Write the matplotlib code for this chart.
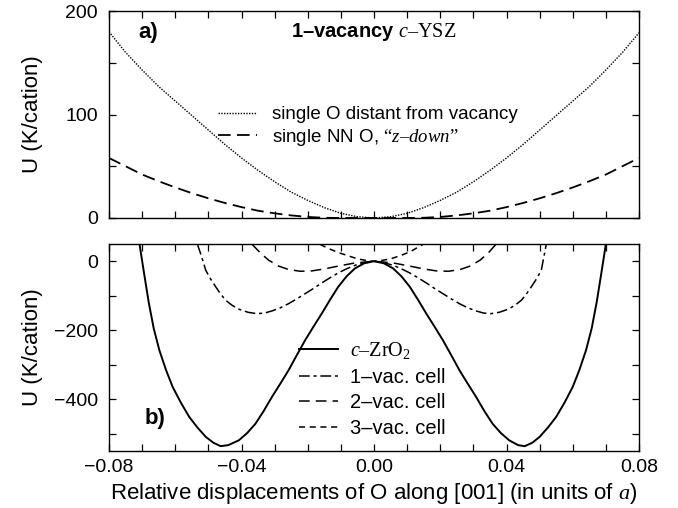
import numpy as np
import matplotlib.pyplot as plt
from matplotlib.ticker import MultipleLocator

plt.rcParams["font.family"] = ["Liberation Sans", "DejaVu Sans"]
plt.rcParams["mathtext.fontset"] = "custom"
plt.rcParams["mathtext.rm"] = "Liberation Serif"
plt.rcParams["mathtext.it"] = "Liberation Serif:italic"
plt.rcParams["font.size"] = 14

# ---- panel a): 1-vacancy c-YSZ ----
x_distant = [-0.080, -0.075, -0.070, -0.065, -0.060, -0.055, -0.050, -0.045, -0.040,
             -0.035, -0.030, -0.025, -0.020, -0.015, -0.010, -0.005, 0.0,
             0.005, 0.010, 0.015, 0.020, 0.025, 0.030, 0.035, 0.040,
             0.045, 0.050, 0.055, 0.060, 0.065, 0.070, 0.075, 0.080]
u_distant = [180, 160, 143, 127, 113, 99, 85, 71, 58,
             46, 35, 25, 17, 10, 4.5, 1.2, 0,
             1.2, 4.5, 10, 17, 25, 35, 46, 58,
             71, 85, 99, 113, 127, 143, 160, 179]

x_nn = [-0.080, -0.075, -0.070, -0.065, -0.060, -0.055, -0.050, -0.045, -0.040,
        -0.035, -0.030, -0.025, -0.020, -0.015, -0.010, 0.0,
        0.010, 0.015, 0.020, 0.025, 0.030, 0.035, 0.040,
        0.045, 0.050, 0.055, 0.060, 0.065, 0.070, 0.075, 0.080]
u_nn = [58, 50, 42, 35.5, 29.5, 24, 19, 14.5, 10.5,
        7, 4.5, 2.5, 1, 0.2, 0, 0,
        0, 0.2, 1, 2.5, 4.5, 7, 10.5,
        14.5, 19, 24, 29.5, 35.5, 42, 50, 58]

# ---- panel b) ----
x_zro2 = [-0.0708, -0.0695, -0.0680, -0.0665, -0.0648, -0.0628, -0.0608, -0.0583,
          -0.0558, -0.0533, -0.0508, -0.0485, -0.0463, -0.0440, -0.0408, -0.0383,
          -0.0358, -0.0333, -0.0308, -0.0283, -0.0258, -0.0233, -0.0208, -0.0183,
          -0.0158, -0.0133, -0.0108, -0.0083, -0.0058, -0.0030, 0.0,
          0.0030, 0.0058, 0.0083, 0.0108, 0.0133, 0.0158, 0.0183, 0.0208,
          0.0233, 0.0258, 0.0283, 0.0308, 0.0333, 0.0358, 0.0383, 0.0408,
          0.0435, 0.0455, 0.0478, 0.0500, 0.0525, 0.0550, 0.0575, 0.0600,
          0.0620, 0.0640, 0.0657, 0.0672, 0.0687, 0.0700]
u_zro2 = [50, -30, -120, -195, -258, -315, -364, -410,
          -451, -482, -509, -526, -536, -533, -519, -498,
          -471, -434, -393, -355, -316, -272, -229, -190,
          -152, -112, -74, -44, -21, -6, 0,
          -6, -21, -44, -74, -112, -152, -190, -229,
          -272, -316, -355, -393, -434, -471, -498, -519,
          -533, -536, -526, -509, -482, -451, -410, -364,
          -315, -258, -195, -120, -30, 50]

x_vac1 = [-0.0533, -0.0520, -0.0508, -0.0493, -0.0478, -0.0463, -0.0448, -0.0428,
          -0.0408, -0.0380, -0.0353, -0.0330, -0.0308, -0.0283, -0.0258, -0.0233,
          -0.0208, -0.0183, -0.0158, -0.0133, -0.0108, -0.0083, -0.0058, -0.0030, 0.0,
          0.0030, 0.0058, 0.0083, 0.0108, 0.0133, 0.0158, 0.0183, 0.0208,
          0.0233, 0.0258, 0.0283, 0.0308, 0.0330, 0.0352, 0.0378, 0.0405,
          0.0425, 0.0445, 0.0460, 0.0475, 0.0490, 0.0505, 0.0520]
u_vac1 = [49, 12, -26, -52, -74, -95, -113, -128,
          -139, -148, -152, -150, -144, -135, -123, -109,
          -94, -79, -63, -48, -34, -22, -12, -4, 0,
          -4, -12, -22, -34, -48, -63, -79, -94,
          -109, -123, -135, -144, -150, -152, -148, -139,
          -128, -113, -95, -74, -52, -26, 49]

x_vac2 = [-0.0368, -0.0343, -0.0318, -0.0288, -0.0258, -0.0223, -0.0188, -0.0148,
          -0.0108, -0.0058, 0.0,
          0.0058, 0.0108, 0.0148, 0.0188, 0.0225, 0.0260, 0.0290, 0.0320,
          0.0345, 0.0368]
u_vac2 = [49, 24, 3, -14, -24, -29, -28, -22,
          -14, -5, 0,
          -5, -14, -22, -28, -29, -24, -14, 3,
          24, 49]

x_vac3 = [-0.0163, -0.0140, -0.0110, -0.0082, -0.0050, -0.0022, 0.0,
          0.0022, 0.0050, 0.0082, 0.0110, 0.0135, 0.0150]
u_vac3 = [49, 38, 26, 17, 7, 2, 0,
          2, 7, 17, 28, 42, 50]

x_ticks = [-0.08, -0.04, 0.0, 0.04, 0.08]
x_ticklabels = ["−0.08", "−0.04", "0.00", "0.04", "0.08"]
ya_ticks = [0, 100, 200]
yb_ticks = [-400, -200, 0]
yb_ticklabels = ["−400", "−200", "0"]

fig = plt.figure(figsize=(6.78, 5.08), dpi=100)
ax1 = fig.add_axes([0.1608, 0.5709, 0.7817, 0.4074])
ax2 = fig.add_axes([0.1608, 0.1122, 0.7817, 0.4075])

for ax in (ax1, ax2):
    ax.set_xlim(-0.08, 0.08)
    ax.xaxis.set_minor_locator(MultipleLocator(0.01))
    ax.tick_params(which="both", direction="in", top=True, right=True,
                   length=5, width=0.9, labelsize=14)
    ax.tick_params(axis="y", pad=8)
    ax.tick_params(axis="x", pad=6)
    for s in ax.spines.values():
        s.set_linewidth(1.0)
    ax.yaxis.set_label_coords(-0.125, 0.5)

# panel a
ax1.plot(x_distant, u_distant, color="black", lw=1.0, linestyle=(0, (1, 1)),
         label="single O distant from vacancy")
ax1.plot(x_nn, u_nn, color="black", lw=1.3, linestyle=(0, (7, 3.5)),
         label="single NN O, " + "$\\mathrm{“}\\mathit{z–down}\\mathrm{”}$")
ax1.set_ylim(0, 200)
ax1.set_yticks(ya_ticks)
ax1.yaxis.set_minor_locator(MultipleLocator(50))
ax1.set_xticks(x_ticks)
ax1.set_xticklabels([])
ax1.set_ylabel("U (K/cation)", fontsize=16)
ax1.text(0.055, 0.894, "a)", transform=ax1.transAxes, fontweight="bold",
         fontsize=16, va="center")
ax1.text(0.5, 0.9, "1–vacancy " + "$\\mathit{c}\\mathrm{–YSZ}$",
         transform=ax1.transAxes, fontweight="bold", ha="center", va="center",
         fontsize=14.5)
ax1.legend(loc="center left", bbox_to_anchor=(0.205, 0.44), frameon=False,
           handlelength=2.1, handletextpad=0.8, labelspacing=0.2,
           borderpad=0, borderaxespad=0, fontsize=13.5)

# panel b
ax2.plot(x_zro2, u_zro2, color="black", lw=1.4,
         label="$\\mathit{c}\\mathrm{–ZrO}_{2}$")
ax2.plot(x_vac1, u_vac1, color="black", lw=1.1, linestyle=(0, (7, 2.5, 2, 2.5)),
         label="1–vac. cell")
ax2.plot(x_vac2, u_vac2, color="black", lw=1.1, linestyle=(0, (7, 4)),
         label="2–vac. cell")
ax2.plot(x_vac3, u_vac3, color="black", lw=1.1, linestyle=(0, (4, 3)),
         label="3–vac. cell")
ax2.set_ylim(-550, 50)
ax2.set_yticks(yb_ticks)
ax2.set_yticklabels(yb_ticklabels)
ax2.yaxis.set_minor_locator(MultipleLocator(100))
ax2.set_xticks(x_ticks)
ax2.set_xticklabels(x_ticklabels)
ax2.set_ylabel("U (K/cation)", fontsize=16)
ax2.set_xlabel("Relative displacements of O along [001] (in units of " + "$\\mathit{a}$" + ")",
               labelpad=3, fontsize=16)
ax2.text(0.068, 0.155, "b)", transform=ax2.transAxes, fontweight="bold",
         fontsize=16, va="center")
ax2.legend(loc="upper left", bbox_to_anchor=(0.359, 0.535), frameon=False,
           handlelength=1.9, handletextpad=0.6, labelspacing=0.32,
           borderpad=0, borderaxespad=0, fontsize=14.5)

fig.savefig("out.png", dpi=100)
